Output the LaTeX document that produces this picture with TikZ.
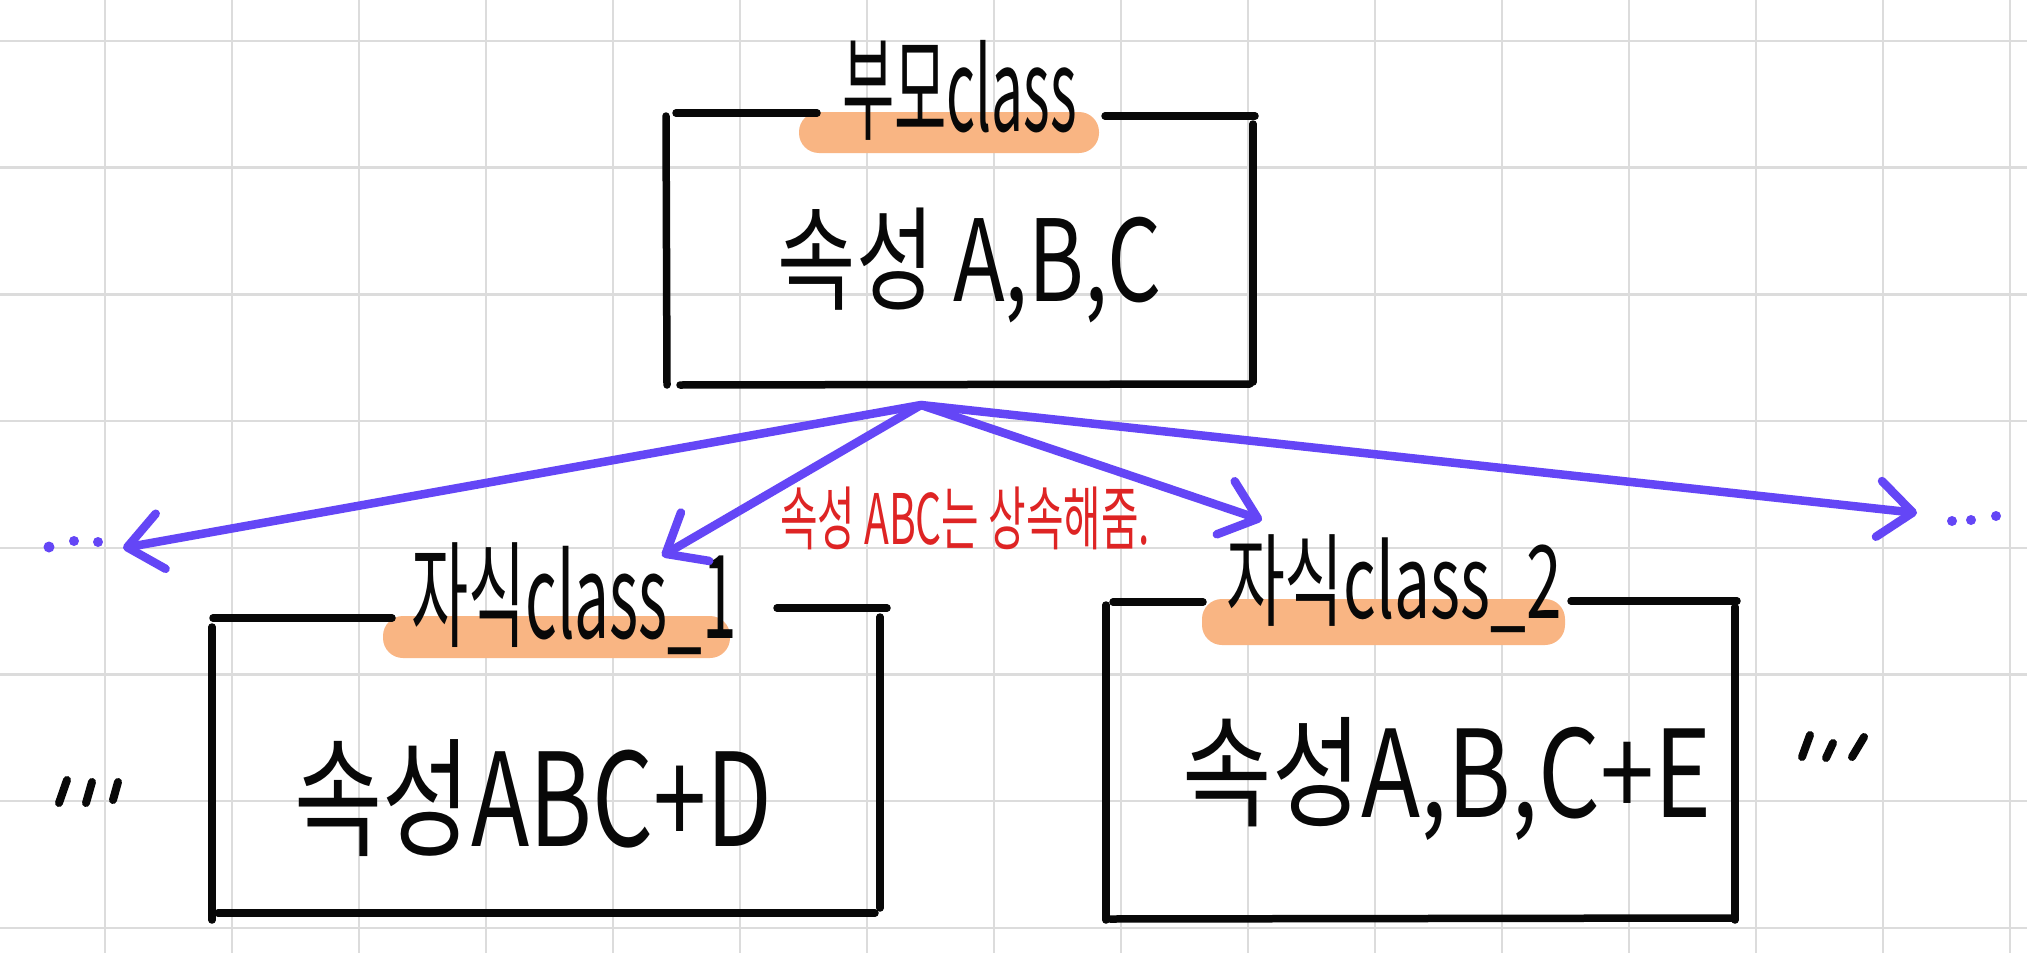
\documentclass[tikz,border=0pt]{standalone}
\usepackage{graphicx}
\usepackage{fontspec}
\newfontfamily\kr{Noto Sans CJK KR}
\usetikzlibrary{arrows.meta}
\definecolor{gridc}{RGB}{220,220,220}
\definecolor{hl}{RGB}{249,181,131}
\definecolor{arrowc}{RGB}{100,70,246}
\definecolor{redc}{RGB}{222,36,36}
\definecolor{ink}{RGB}{8,8,8}
\newcommand{\fitt}[3]{\resizebox*{#1}{#2}{\kr #3}}
\tikzset{
  gridline/.style={draw=gridc, line width=2.5pt},
  boxline/.style={draw=ink, line width=7.5pt, line cap=round},
  hlpill/.style={fill=hl, rounded corners=20pt},
  txt/.style={inner sep=0pt, outer sep=0pt, text=ink},
  inh/.style={draw=arrowc, line width=8.5pt, line cap=round,
    -{Straight Barb[length=34pt, width=56pt, line cap=round, line join=round]}},
  dotmark/.style={fill=arrowc},
  tick/.style={draw=ink, line width=8pt, line cap=round}
}
\begin{document}
\begin{tikzpicture}[x=1pt,y=-1pt]
\useasboundingbox (0,0) rectangle (2027,953);
\fill[white] (0,0) rectangle (2027,953);
% grid
\foreach \i in {0,...,15} \draw[gridline] ({105+127*\i},0) -- ({105+127*\i},953);
\foreach \j in {0,...,7} \draw[gridline] (0,{41+126.7*\j}) -- (2027,{41+126.7*\j});

% highlights
\fill[hlpill] (799,112) rectangle (1099,153);
\fill[hlpill] (383,616) rectangle (730,658);
\fill[hlpill] (1202,599) rectangle (1565,645);

% parent box
\draw[boxline] (666,116) -- (667,385);
\draw[boxline] (676,113) -- (817,113);
\draw[boxline] (1105,116) -- (1255,116);
\draw[boxline] (1253,124) -- (1253,382);
\draw[boxline] (680,385) -- (1250,384);

% child 1 box
\draw[boxline] (212,627) -- (212,920);
\draw[boxline] (213,618) -- (392,618);
\draw[boxline] (777,608) -- (887,608);
\draw[boxline] (880,617) -- (880,908);
\draw[boxline] (218,913) -- (875,913);

% child 2 box
\draw[boxline] (1106,605) -- (1106,920);
\draw[boxline] (1113,602) -- (1203,602);
\draw[boxline] (1571,601) -- (1737,601);
\draw[boxline] (1735,607) -- (1735,920);
\draw[boxline] (1110,919) -- (1733,918);

% texts
\node[txt] (ptitle) at (959.5,90) {\fitt{235pt}{100pt}{부모class}};
\node[txt] (pbody) at (970,265.5) {\fitt{384pt}{115pt}{속성 A,B,C}};
\node[txt] (c1title) at (574,599) {\fitt{326pt}{112pt}{자식class\_1}};
\node[txt] (c1body) at (533.5,798.5) {\fitt{477pt}{117pt}{속성ABC+D}};
\node[txt] (c2title) at (1394,584) {\fitt{336pt}{98pt}{자식class\_2}};
\node[txt] (c2body) at (1447,778.5) {\fitt{528pt}{123pt}{속성A,B,C+E}};
\node[txt, text=redc] (note) at (965,518.5) {\fitt{370pt}{63pt}{\color{redc}속성 ABC는 상속해줌.}};

% arrows
\coordinate (apex) at (921,405);
\coordinate (tipL) at (123,548);
\coordinate (tipC1) at (662,556);
\coordinate (tipC2) at (1262,520);
\coordinate (tipR) at (1917,513);
\draw[inh] (apex) -- (tipL);
\draw[inh] (apex) -- (tipC1);
\draw[inh] (apex) -- (tipC2);
\draw[inh] (apex) -- (tipR);

% ellipsis dots
\fill[dotmark] (49,547) circle (5.5pt);
\fill[dotmark] (74,541) circle (5pt);
\fill[dotmark] (98,542) circle (5pt);
\fill[dotmark] (1952,521) circle (5pt);
\fill[dotmark] (1971,520) circle (5pt);
\fill[dotmark] (1996,516) circle (5pt);

% tick marks
\draw[tick] (67,780) -- (59,803);
\draw[tick] (92,782) -- (86,803);
\draw[tick] (118,782) -- (113,800);
\draw[tick] (1810,735) -- (1802,757);
\draw[tick] (1833,743) -- (1826,758);
\draw[tick] (1864,737) -- (1852,757);
\end{tikzpicture}
\end{document}
